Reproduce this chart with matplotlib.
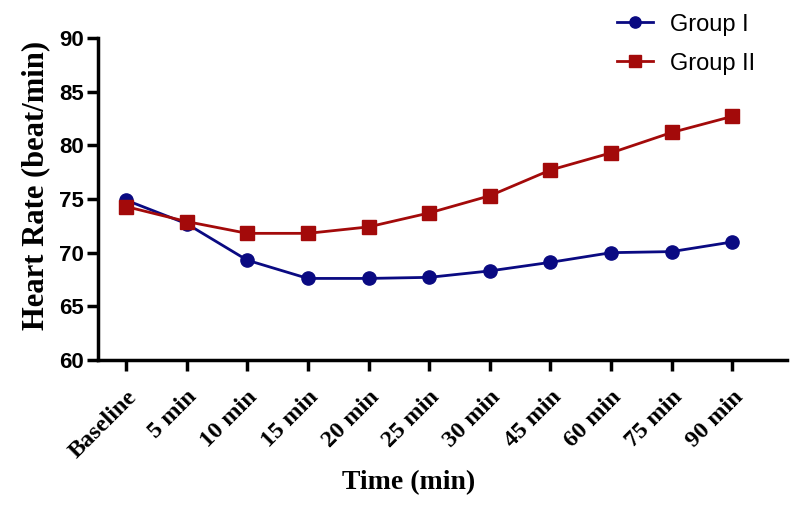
import matplotlib.pyplot as plt
import numpy as np

# ---------------------------------------------------------------
# Data
# ---------------------------------------------------------------
time_labels = ["Baseline", "5 min", "10 min", "15 min", "20 min", "25 min",
               "30 min", "45 min", "60 min", "75 min", "90 min"]
group_1 = [74.9, 72.7, 69.3, 67.6, 67.6, 67.7, 68.3, 69.1, 70.0, 70.1, 71.0]
group_2 = [74.3, 72.9, 71.8, 71.8, 72.4, 73.7, 75.3, 77.7, 79.3, 81.2, 82.7]

BLUE = "#0a0a82"
RED = "#a30a0a"

fig = plt.figure(figsize=(7.93, 5.05), dpi=100)
ax = fig.add_axes([98 / 793, 1 - 360 / 505, (787 - 98) / 793, (360 - 38) / 505])

x = np.arange(len(time_labels))
ax.plot(x, group_1, color=BLUE, lw=2, marker="o", ms=9.5, label="Group I")
ax.plot(x, group_2, color=RED, lw=2, marker="s", ms=9.5, label="Group II")

ax.set_xlim(-0.46, 10.9)
ax.set_ylim(60, 90)
ax.set_yticks(np.arange(60, 91, 5))
ax.set_xticks(x)
ax.set_xticklabels(time_labels, rotation=45, ha="right", rotation_mode="anchor",
                   fontfamily="Liberation Serif", fontweight="bold", fontsize=17.5)
for lab in ax.get_yticklabels():
    lab.set_fontfamily("Liberation Sans")
    lab.set_fontweight("bold")
    lab.set_fontsize(16)

for side in ["top", "right"]:
    ax.spines[side].set_visible(False)
for side in ["left", "bottom"]:
    ax.spines[side].set_linewidth(2.5)
ax.tick_params(direction="out", length=8, width=2.5, pad=2)
ax.tick_params(axis="x", pad=11)

ax.set_ylabel("Heart Rate (beat/min)", fontfamily="Liberation Serif",
              fontweight="bold", fontsize=22)
ax.yaxis.set_label_coords(-0.07, 0.543)
ax.set_xlabel("Time (min)", fontfamily="Liberation Serif",
              fontweight="bold", fontsize=20)
ax.xaxis.set_label_coords(0.451, -0.342)

leg = ax.legend(loc="upper left", bbox_to_anchor=(596 / 793, 1.015), bbox_transform=fig.transFigure,
                frameon=False, prop={"family": "Liberation Sans", "size": 17},
                handlelength=1.5, labelspacing=0.72, handletextpad=0.75, markerscale=0.85)

fig.savefig("out.png", dpi=100)
